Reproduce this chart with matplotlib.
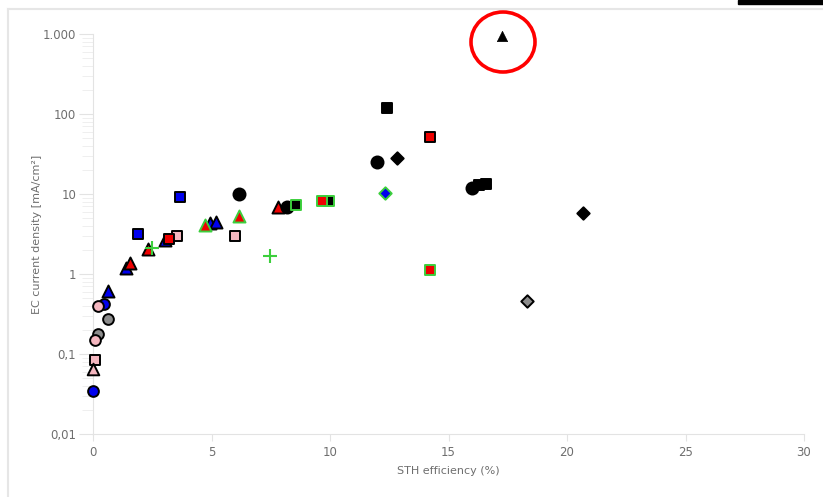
import matplotlib
matplotlib.use("Agg")
import matplotlib.pyplot as plt
from matplotlib.patches import Ellipse, Rectangle
from matplotlib.lines import Line2D

# data (STH efficiency %, EC current density mA/cm2)
blue_circle_x = [0.0, 0.46]
blue_circle_y = [0.034, 0.42]
pink_circle_x = [0.21, 0.08]
pink_circle_y = [0.40, 0.15]
grey_circle_x = [0.63, 0.21]
grey_circle_y = [0.27, 0.18]
pink_square_x = [0.08, 3.55, 6.0]
pink_square_y = [0.084, 2.98, 2.98]
pink_triangle_x = [0.0]
pink_triangle_y = [0.065]
blue_triangle_x = [0.63, 1.39, 3.04, 4.95, 5.2]
blue_triangle_y = [0.61, 1.19, 2.66, 4.3, 4.5]
red_triangle_x = [1.56, 2.32, 7.82]
red_triangle_y = [1.37, 2.05, 6.9]
red_triangle_green_x = [4.73, 6.17]
red_triangle_green_y = [4.1, 5.3]
blue_square_x = [1.9, 3.67]
blue_square_y = [3.16, 9.2]
red_square_x = [3.2, 14.24]
red_square_y = [2.75, 51]
green_plus_x = [2.5, 7.48]
green_plus_y = [2.1, 1.68]
black_circle_x = [6.17, 8.2, 12.0, 16.0]
black_circle_y = [10, 6.9, 25, 11.9]
black_square_green_x = [8.58, 9.97]
black_square_green_y = [7.3, 8.2]
red_square_green_x = [9.67, 14.24]
red_square_green_y = [8.2, 1.12]
black_square_x = [12.42, 16.3, 16.6]
black_square_y = [120, 13, 13.3]
black_diamond_x = [12.84, 20.66]
black_diamond_y = [28, 5.8]
blue_diamond_green_x = [12.3]
blue_diamond_green_y = [10.3]
grey_diamond_x = [18.3]
grey_diamond_y = [0.46]
black_triangle_x = [17.24]
black_triangle_y = [950]

y_ticks = [0.01, 0.1, 1, 10, 100, 1000]
y_tick_labels = ["0,01", "0,1", "1", "10", "100", "1.000"]
x_ticks = [0, 5, 10, 15, 20, 25, 30]

GREEN = "#3ccf3c"
PINK = "#f4b6bf"
GREY = "#8c8c8c"
TEXT = "#6e6e6e"

fig = plt.figure(figsize=(8.23, 4.97), dpi=100)
ax = fig.add_axes([93 / 823, 1 - 434 / 497, (804 - 93) / 823, 400 / 497])


def pts(x, y, marker, face, edge, s=60, lw=1.4, z=3):
    ax.scatter(x, y, marker=marker, s=s, c=face, edgecolors=edge,
               linewidths=lw, zorder=z, clip_on=False)


pts(blue_circle_x, blue_circle_y, "o", "#0000ee", "black")
pts(grey_circle_x, grey_circle_y, "o", GREY, "black")
pts(pink_circle_x, pink_circle_y, "o", PINK, "black")
pts(pink_square_x, pink_square_y, "s", PINK, "black", s=55)
pts(pink_triangle_x, pink_triangle_y, "^", PINK, "black", s=70)
pts(blue_triangle_x, blue_triangle_y, "^", "#0000ee", "black", s=75)
pts(red_triangle_x, red_triangle_y, "^", "#ee0000", "black", s=75)
pts(red_triangle_green_x, red_triangle_green_y, "^", "#ee0000", GREEN, s=75)
pts(blue_square_x, blue_square_y, "s", "#0000ee", "black", s=55)
pts(red_square_x, red_square_y, "s", "#ee0000", "black", s=55)
pts(green_plus_x, green_plus_y, "+", GREEN, GREEN, s=90, lw=1.5)
pts(black_circle_x, black_circle_y, "o", "black", "black", s=75)
pts(black_square_green_x, black_square_green_y, "s", "black", GREEN, s=50)
pts(red_square_green_x, red_square_green_y, "s", "#ee0000", GREEN, s=50)
pts(black_square_x, black_square_y, "s", "black", "black", s=55)
pts(black_diamond_x, black_diamond_y, "D", "black", "black", s=40)
pts(blue_diamond_green_x, blue_diamond_green_y, "D", "#0000ee", GREEN, s=40)
pts(grey_diamond_x, grey_diamond_y, "D", GREY, "black", s=40)
pts(black_triangle_x, black_triangle_y, "^", "black", "black", s=55, lw=0.5)

ax.set_yscale("log")
ax.set_ylim(0.01, 1000)
ax.set_xlim(0, 30)
ax.set_yticks(y_ticks)
ax.set_yticklabels(y_tick_labels)
ax.set_xticks(x_ticks)

for side in ["top", "right"]:
    ax.spines[side].set_visible(False)
ax.spines["left"].set_color("#e3e3e3")
ax.spines["bottom"].set_color("#e3e3e3")
ax.tick_params(axis="y", which="major", length=10, color="#e3e3e3",
               labelcolor=TEXT, labelsize=8.5, pad=2)
ax.tick_params(axis="y", which="minor", length=8, color="#ececec")
ax.tick_params(axis="x", which="major", length=5, color="#e3e3e3",
               labelcolor=TEXT, labelsize=8.5, pad=4)
ax.set_xlabel("STH efficiency (%)", color=TEXT, fontsize=8, labelpad=5)
ax.set_ylabel("EC current density [mA/cm²]", color=TEXT, fontsize=8)
ax.yaxis.set_label_coords(-0.072, 0.5)

# red circle highlighting the outlier
ring = Ellipse((503 / 823, 1 - 42 / 497), 64 / 823, 60 / 497, transform=fig.transFigure,
               fill=False, edgecolor="#ff0000", linewidth=2.6)
fig.patches.append(ring)

# card outline of the screenshot
fig.add_artist(Line2D([8 / 823, 1], [1 - 9 / 497, 1 - 9 / 497], color="#e6e6e6", lw=1.5))
fig.add_artist(Line2D([8 / 823, 8 / 823], [0, 1 - 9 / 497], color="#e6e6e6", lw=1.5))
fig.patches.append(Rectangle((738 / 823, 1 - 4 / 497), 85 / 823, 4 / 497,
                             transform=fig.transFigure, color="black"))

plt.savefig("out.png", dpi=100)
